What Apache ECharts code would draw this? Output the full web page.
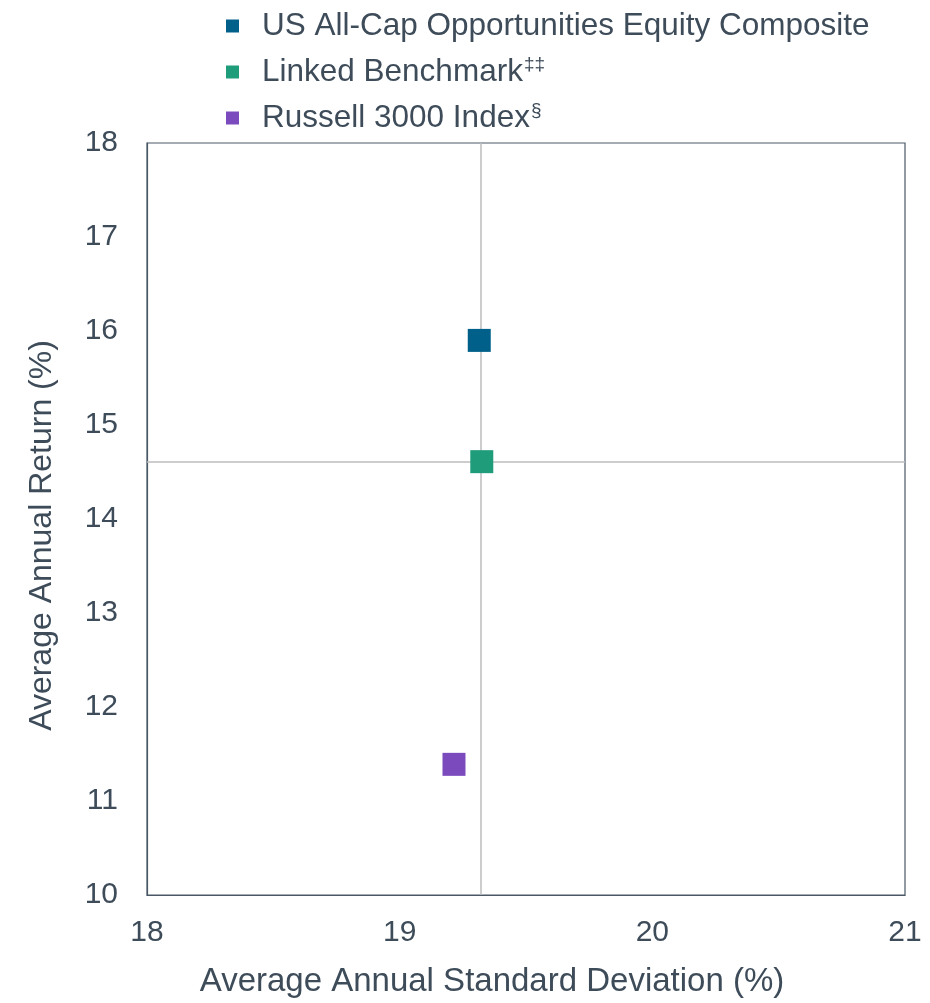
<!DOCTYPE html>
<html>
<head>
<meta charset="utf-8">
<script src="https://cdn.jsdelivr.net/npm/echarts@6/dist/echarts.min.js"></script>
<style>html,body{margin:0;padding:0;background:#fff;}#c{width:930px;height:1003px;}</style>
</head>
<body>
<div id="c"></div>
<script>
const seriesNames = ['US All-Cap Opportunities Equity Composite', 'Linked Benchmark', 'Russell 3000 Index'];
const seriesSup = ['', '‡‡', '§'];
const seriesColors = ['#00608A', '#1F9C7A', '#7B4BBE'];
const stdDev = [19.315, 19.325, 19.215];
const avgReturn = [15.9, 14.61, 11.39];
const xTicks = [18, 19, 20, 21];
const yTicks = [10, 11, 12, 13, 14, 15, 16, 17, 18];
const crossX = 19.325;
const crossY = 14.61;

const textColor = '#3E4C5A';
const font = 'Liberation Sans, Arial, sans-serif';

const chart = echarts.init(document.getElementById('c'));
const series = seriesNames.map((n, i) => ({
  name: n,
  type: 'scatter',
  symbol: 'rect',
  symbolSize: 23,
  itemStyle: { color: seriesColors[i], opacity: 1 },
  data: [[stdDev[i], avgReturn[i]]],
  z: 5
}));
series.push({
  name: 'cross',
  type: 'scatter',
  data: [],
  z: 1,
  markLine: {
    silent: true,
    symbol: 'none',
    label: { show: false },
    lineStyle: { color: '#BDBDBD', width: 1.5, type: 'solid' },
    data: [{ xAxis: crossX }, { yAxis: crossY }]
  }
});

chart.setOption({
  animation: false,
  backgroundColor: '#fff',
  textStyle: { fontFamily: font },
  legend: {
    data: seriesNames,
    orient: 'vertical',
    left: 221,
    top: 5,
    itemWidth: 13,
    itemHeight: 13,
    itemGap: 13,
    icon: 'rect',
    formatter: function (name) {
      const i = seriesNames.indexOf(name);
      return '{a|' + name + '}' + (seriesSup[i] ? '{s|' + seriesSup[i] + '}' : '');
    },
    textStyle: {
      color: textColor,
      fontFamily: font,
      padding: [0, 0, 0, 18],
      rich: {
        a: { fontSize: 31.5, color: textColor, fontFamily: font, lineHeight: 34 },
        s: { fontSize: 19, color: textColor, fontFamily: font, verticalAlign: 'top', lineHeight: 34, padding: [0, 0, 12, 1] }
      }
    }
  },
  grid: {
    left: 147, right: 25, top: 143, bottom: 103,
    show: true, borderColor: '#4A5866', borderWidth: 1.2,
    containLabel: false
  },
  xAxis: {
    type: 'value',
    min: xTicks[0], max: xTicks[xTicks.length - 1], interval: 1,
    name: 'Average Annual Standard Deviation (%)',
    nameLocation: 'middle',
    nameGap: 70,
    nameTextStyle: { fontSize: 33, color: textColor, fontFamily: font, padding: [0, 68, 0, 0] },
    axisLine: { show: true, lineStyle: { color: '#4A5866', width: 1.2 } },
    axisTick: { show: false },
    splitLine: { show: false },
    axisLabel: { fontSize: 30, color: textColor, margin: 23, fontFamily: font,
      formatter: v => xTicks.includes(v) ? String(v) : '' }
  },
  yAxis: {
    type: 'value',
    min: yTicks[0], max: yTicks[yTicks.length - 1], interval: 1,
    name: 'Average Annual Return (%)',
    nameLocation: 'middle',
    nameGap: 89,
    nameRotate: 90,
    nameTextStyle: { fontSize: 32, color: textColor, fontFamily: font, padding: [0, 33, 0, 0] },
    axisLine: { show: true, lineStyle: { color: '#4A5866', width: 1.2 } },
    axisTick: { show: false },
    splitLine: { show: false },
    axisLabel: { fontSize: 30, color: textColor, margin: 29, fontFamily: font,
      formatter: v => yTicks.includes(v) ? String(v) : '' }
  },
  series: series
});
</script>
</body>
</html>
